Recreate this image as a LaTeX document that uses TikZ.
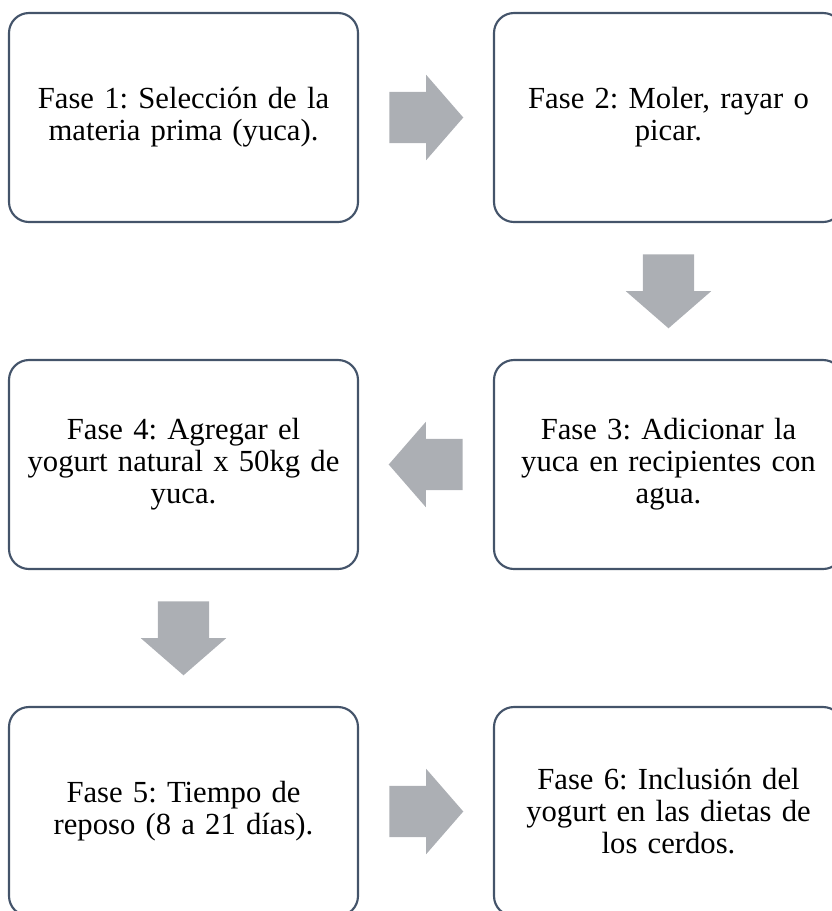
\documentclass[tikz,border=0pt]{standalone}
\usepackage{fontspec}
\setmainfont{Liberation Serif}
\usetikzlibrary{positioning,calc,shapes.arrows}

\definecolor{boxline}{HTML}{44546A}
\definecolor{arrowgray}{RGB}{172,175,180}

\def\colsep{363.75pt}
\def\rowsep{260.25pt}

\begin{document}
\frenchspacing
\begin{tikzpicture}[x=0.75pt,y=-0.75pt, node distance=\colsep]
        \tikzstyle{fase}=[draw=boxline,line width=1.6pt,rounded corners=15pt,
            minimum width=261.75pt,minimum height=156.75pt,inner sep=0pt,
            text width=255pt,align=center,font=\fontsize{23pt}{24pt}\selectfont]
        \tikzstyle{flecha}=[single arrow,fill=arrowgray,draw=none,
            inner xsep=0pt,inner ysep=19.1pt,
            minimum height=55.5pt,anchor=tail,
            single arrow head extend=12.75pt,single arrow tip angle=98]
        \useasboundingbox (0,0) rectangle (832,911);
        \clip (0,0) rectangle (832,911);
        \node[fase] (f1) at (183.5,117.5) {Fase 1: Selección de la\\ materia prima (yuca).};
        \node[fase,right of=f1] (f2) {Fase 2: Moler, rayar o\\ picar.};
        \node[fase,below of=f2,node distance=\rowsep] (f3) {Fase 3: Adicionar la\\ yuca en recipientes con\\ agua.};
        \node[fase,left of=f3] (f4) {Fase 4: Agregar el\\ yogurt natural x 50kg de\\ yuca.};
        \node[fase,below of=f4,node distance=\rowsep] (f5) {Fase 5: Tiempo de\\ reposo (8 a 21 días).};
        \node[fase,right of=f5] (f6) {Fase 6: Inclusión del\\ yogurt en las dietas de\\ los cerdos.};
        % block arrows sit in the middle of the gap between two phases
        \foreach \a/\b/\r in {f1/f2/0, f2/f3/-90, f3/f4/180, f4/f5/-90, f5/f6/0}
            \node[flecha,rotate=\r] (\a-\b) at ($($(\a)!0.5!(\b)$)!27.75pt!(\a)$) {};
    \end{tikzpicture}
\end{document}
